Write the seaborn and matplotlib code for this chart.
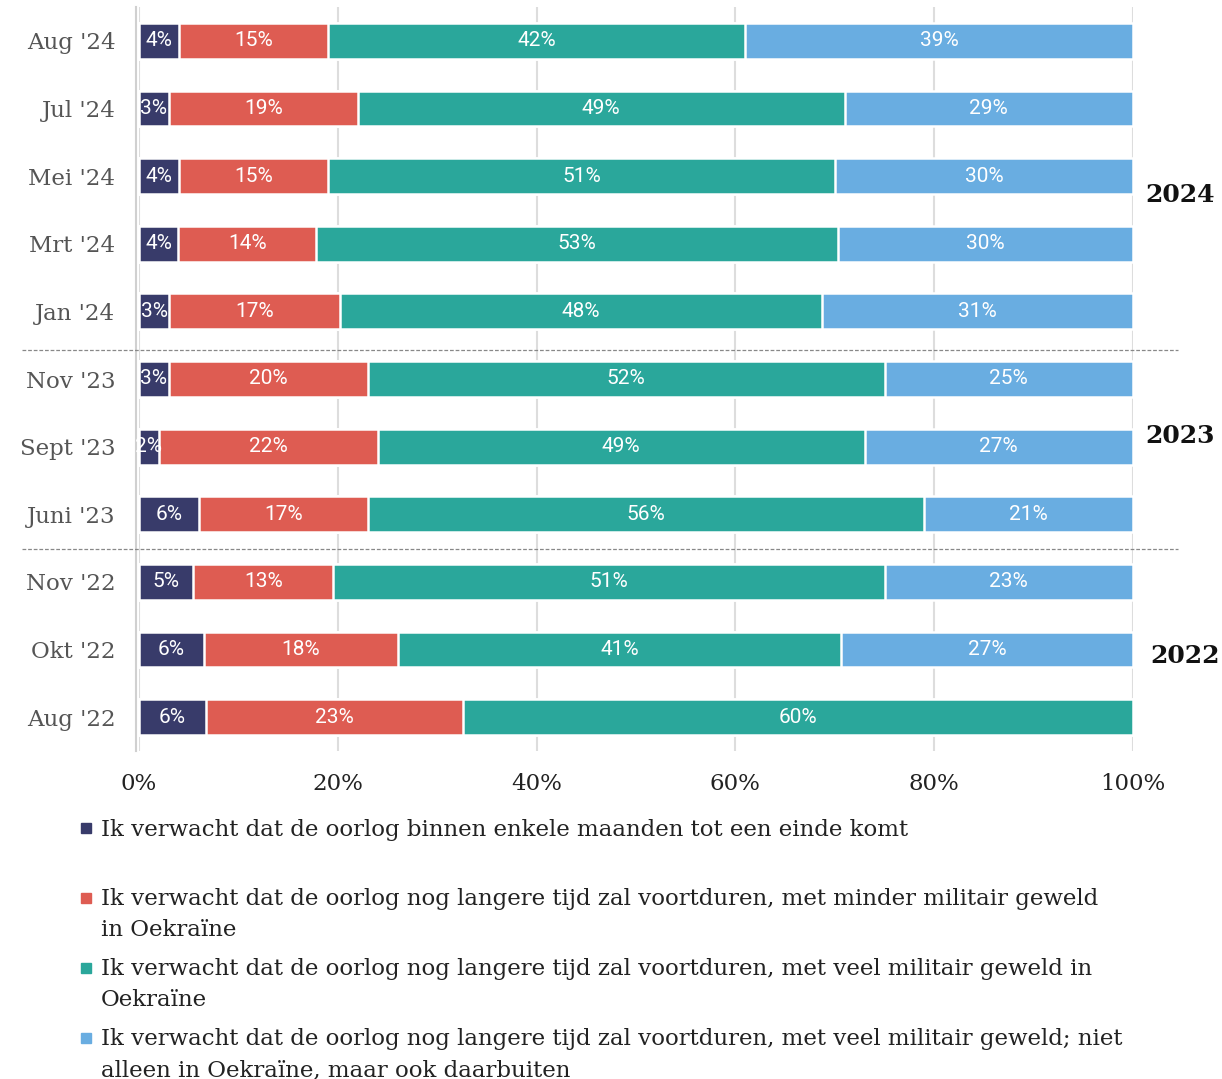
import matplotlib
matplotlib.use("Agg")
import matplotlib.pyplot as plt
import seaborn as sns
import pandas as pd
import numpy as np
from matplotlib.patches import Rectangle

# ---------------- data ----------------
months = ["Aug '24", "Jul '24", "Mei '24", "Mrt '24", "Jan '24",
          "Nov '23", "Sept '23", "Juni '23", "Nov '22", "Okt '22", "Aug '22"]
einde = [4, 3, 4, 4, 3, 3, 2, 6, 5, 6, 6]
minder = [15, 19, 15, 14, 17, 20, 22, 17, 13, 18, 23]
veel = [42, 49, 51, 53, 48, 52, 49, 56, 51, 41, 60]
buiten = [39, 29, 30, 30, 31, 25, 27, 21, 23, 27, None]

series_labels = [
    "Ik verwacht dat de oorlog binnen enkele maanden tot een einde komt",
    "Ik verwacht dat de oorlog nog langere tijd zal voortduren, met minder militair geweld\nin Oekraïne",
    "Ik verwacht dat de oorlog nog langere tijd zal voortduren, met veel militair geweld in\nOekraïne",
    "Ik verwacht dat de oorlog nog langere tijd zal voortduren, met veel militair geweld; niet\nalleen in Oekraïne, maar ook daarbuiten",
]
colors = ["#383b6a", "#de5c52", "#2aa79b", "#69ade1"]

year_labels = ["2024", "2023", "2022"]

# ---------------- prepare ----------------
sns.set_theme(style="white")
plt.rcParams["font.family"] = ["DejaVu Serif", "DejaVu Sans"]

df = pd.DataFrame({"month": months, "s0": einde, "s1": minder, "s2": veel, "s3": buiten})
cols = ["s0", "s1", "s2", "s3"]
df[cols] = df[cols].astype(float)
vals = df[cols].fillna(0.0)
total = vals.sum(axis=1)
share = vals.div(total, axis=0) * 100
cum = share.cumsum(axis=1)
for i, c in enumerate(cols):
    df[f"cum{i}"] = cum[c]

W, H = 1222, 1079
fig = plt.figure(figsize=(W / 100, H / 100), dpi=100)
ax = fig.add_axes([139 / W, 1 - 751 / H, 994 / W, 744 / H])

for i in reversed(range(4)):
    sns.barplot(data=df, y="month", x=f"cum{i}", order=months, orient="h",
                color=colors[i], saturation=1, width=0.53, edgecolor="white",
                linewidth=1.8, ax=ax, zorder=2)

# value labels
for r in range(len(months)):
    prev = 0.0
    for i, c in enumerate(cols):
        v = df.loc[r, c]
        s = share.loc[r, c]
        if not np.isnan(v) and s > 0:
            ax.text(prev + s / 2, r, f"{int(v)}%", ha="center", va="center",
                    color="white", fontsize=15, family=["Roboto", "DejaVu Sans"],
                    zorder=5)
        prev += s

ax.set_xlim(0, 100)
ax.set_ylim(len(months) - 0.5, -0.5)
ax.set_xlabel("")
ax.set_ylabel("")

ax.set_xticks([0, 20, 40, 60, 80, 100])
ax.set_xticklabels(["0%", "20%", "40%", "60%", "80%", "100%"])
ax.tick_params(axis="x", length=0, pad=16, labelsize=16.5, labelcolor="#222222")
ax.tick_params(axis="y", which="major", length=0, pad=15, labelsize=16.5, labelcolor="#555555")
ax.set_yticks(np.arange(-0.5, len(months)), minor=True)
ax.tick_params(axis="y", which="minor", length=6, width=1.5, color="#d0d0d0")

ax.grid(axis="x", color="#dddddd", linewidth=1.5)
ax.grid(axis="y", visible=False)
ax.set_axisbelow(True)
for s in ["top", "right", "bottom"]:
    ax.spines[s].set_visible(False)
ax.spines["left"].set_color("#d0d0d0")
ax.spines["left"].set_linewidth(1.5)
ax.spines["left"].set_position(("outward", 2))

# year separators
for yy in [4.57, 7.52]:
    ax.axhline(yy, xmin=-0.118, xmax=1.045, color="#888888", linewidth=0.9,
               linestyle=(0, (3, 1.5)), clip_on=False, zorder=3)

# year labels
for txt, xx, yy in zip(year_labels, [101.2, 101.2, 101.7], [2.28, 5.84, 9.09]):
    ax.text(xx, yy, txt, ha="left", va="center", fontsize=18, fontweight="bold",
            color="#111111", clip_on=False)

# legend
first_baselines = [836, 906, 976, 1046]
line_gap = 30
for i, lab in enumerate(series_labels):
    b = first_baselines[i]
    nlines = lab.count("\n") + 1
    fig.add_artist(Rectangle((81 / W, 1 - (b - 3) / H), 9.5 / W, 10 / H,
                             transform=fig.transFigure, color=colors[i]))
    fig.text(101 / W, 1 - (b + (nlines - 1) * line_gap) / H, lab, ha="left",
             va="baseline", fontsize=16.5, color="#222222", linespacing=1.5)

fig.savefig("out.png", dpi=100)
